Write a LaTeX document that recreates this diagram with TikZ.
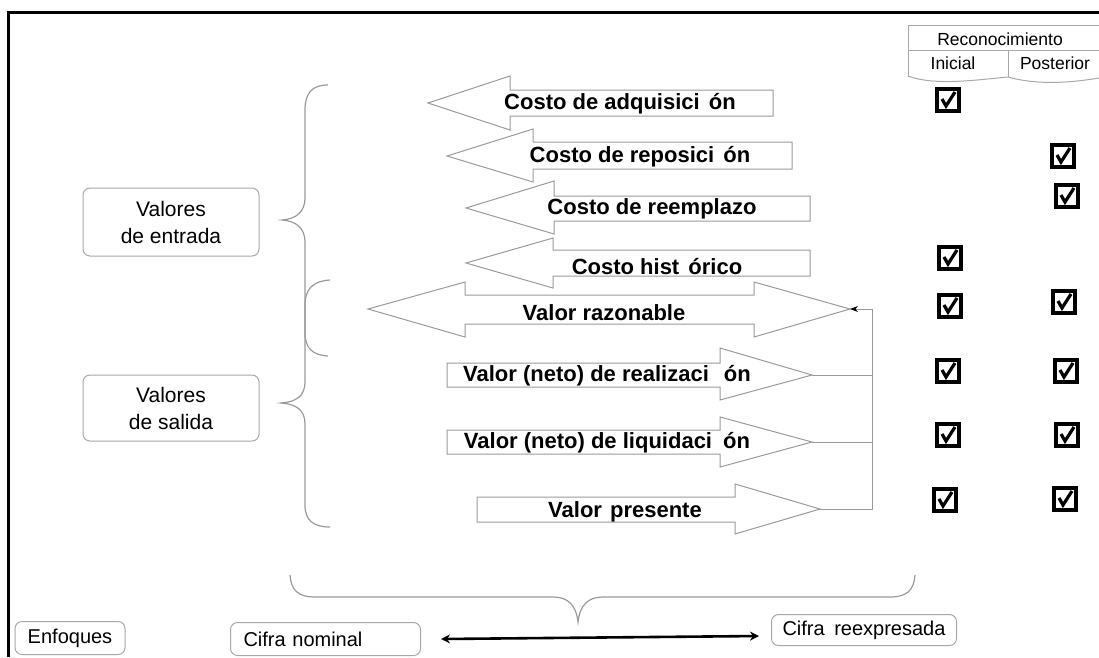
\documentclass[tikz,border=0pt]{standalone}
\usepackage{fontspec}
\setmainfont{Liberation Sans}
\usetikzlibrary{arrows.meta,calc}
\definecolor{lgray}{HTML}{9A9A9A}
\definecolor{bgray}{HTML}{A8A8A8}
\begin{document}
\begin{tikzpicture}[x=1pt,y=-1pt,
  arr/.style={draw=lgray,line width=1pt,line join=miter},
  atext/.style={font=\fontsize{22}{24}\selectfont\bfseries,inner sep=0pt},
  brace/.style={draw=lgray,line width=1.2pt},
  rbox/.style={draw=bgray,line width=1pt,rounded corners=7pt,inner sep=0pt},
  btext/.style={font=\fontsize{21}{27}\selectfont,align=center},
  ftext/.style={font=\fontsize{20}{24}\selectfont},
  htext/.style={font=\fontsize{17.5}{20}\selectfont,inner sep=0pt},
  hline/.style={draw=bgray,line width=1pt},
  conn/.style={draw=lgray,line width=1pt},
  chk/.style={draw,line width=3.2pt,minimum size=22pt,inner sep=0pt,
    path picture={\draw[line width=3.2pt,line join=miter]
      ([xshift=-6pt,yshift=1pt]path picture bounding box.center) --
      ([xshift=-2pt,yshift=-6pt]path picture bounding box.center) --
      ([xshift=7pt,yshift=8pt]path picture bounding box.center);}},
]
\useasboundingbox (0,0) rectangle (1099,657);
% frame
\draw[line width=3pt] (8,657) -- (8,12) -- (1099,12);

% header table
\draw[hline] (1099,25) -- (908,25) -- (908,77);
\draw[hline] (908,50) -- (1099,50);
\draw[hline] (1008,50) -- (1008,77);
\draw[hline] (908,76) .. controls (935,86) and (975,80) .. (1008,77)
  .. controls (1040,86) and (1075,82) .. (1099,78);
\node[htext] (hrec) at (1000,39) {Reconocimiento};
\node[htext] (hini) at (953,63) {Inicial};
\node[htext] (hpos) at (1055,63) {Posterior};

% left-pointing arrows
\draw[arr] (428,103) -- (510,76) -- (510,90) -- (773,90) -- (773,116) -- (510,116) -- (510,130) -- cycle;
\draw[arr] (447,156) -- (533,129) -- (533,142) -- (792,142) -- (792,169) -- (533,169) -- (533,182) -- cycle;
\draw[arr] (466,208) -- (554,181) -- (554,196) -- (810,196) -- (810,221) -- (554,221) -- (554,234) -- cycle;
\draw[arr] (466,263) -- (553,238) -- (553,250) -- (810,250) -- (810,276) -- (553,276) -- (553,288) -- cycle;
% double arrow
\draw[arr] (368,309) -- (465,282) -- (465,295) -- (754,295) -- (754,282) -- (850,309)
  -- (754,337) -- (754,324) -- (465,324) -- (465,337) -- cycle;
% right-pointing arrows
\draw[arr] (447,363) -- (720,363) -- (720,348) -- (812,375) -- (720,400) -- (720,387) -- (447,387) -- cycle;
\draw[arr] (447,430) -- (720,430) -- (720,417) -- (812,442) -- (720,467) -- (720,454) -- (447,454) -- cycle;
\draw[arr] (477,497) -- (735,497) -- (735,484) -- (820,509) -- (735,534) -- (735,522) -- (477,522) -- cycle;

\coordinate (tip5) at (850,309);
\coordinate (tip6) at (812,375);
\coordinate (tip7) at (812,442);
\coordinate (tip8) at (820,509);
\coordinate (rail) at (872,0);

\node[atext] (a1) at (620,104) {Costo de adquisici\hspace{3pt} ón};
\node[atext] (a2) at (640,157) {Costo de reposici\hspace{3pt} ón};
\node[atext] (a3) at (652,209) {Costo de reemplazo};
\node[atext] (a4) at (657,267) {Costo hist\hspace{3pt} órico};
\node[atext] (a5) at (604,313) {Valor razonable};
\node[atext] (a6) at (607,376) {Valor (neto) de realizaci\hspace{9pt} ón};
\node[atext] (a7) at (607,443) {Valor (neto) de liquidaci\hspace{5pt} ón};
\node[atext] (a8) at (625,512) {Valor\hspace{2pt} presente};

% connectors on the right
\draw[conn] (tip6) -- (tip6 -| rail);
\draw[conn] (tip7) -- (tip7 -| rail);
\draw[conn,-{Stealth[length=8pt,width=6pt,black]}] (tip8) -- (tip8 -| rail) -- (tip5 -| rail) -- (tip5);

% braces
\draw[brace] (328,85) .. controls (312,85) and (305,93) .. (305,110) -- (305,198)
  .. controls (305,212) and (296,219) .. (282,220) .. controls (296,221) and (305,228) .. (305,242)
  -- (305,332) .. controls (305,348) and (312,355) .. (328,356);
\draw[brace] (330,280) .. controls (313,281) and (305,289) .. (305,305) -- (305,382)
  .. controls (305,396) and (296,402) .. (281,403) .. controls (296,404) and (305,410) .. (305,424)
  -- (305,505) .. controls (305,520) and (313,527) .. (330,527);
\draw[brace] (290,575) .. controls (291,590) and (298,597) .. (315,597) -- (553,597)
  .. controls (568,597) and (576,605) .. (578,622) .. controls (580,605) and (588,597) .. (603,597)
  -- (890,597) .. controls (907,597) and (914,590) .. (915,575);

% left boxes
\node[rbox,btext,minimum width=176pt,minimum height=68pt] (ve) at (171,222) {Valores\\de entrada};
\node[rbox,btext,minimum width=176pt,minimum height=66pt] (vs) at (171,408) {Valores\\de salida};

% bottom boxes
\node[rbox,ftext,minimum width=110pt,minimum height=33pt] (enf) at (70,638) {Enfoques};
\node[rbox,ftext,anchor=north west,minimum height=33pt,inner xsep=13pt,text width=164pt,align=left] (cn) at (230,622) {Cifra nominal};
\node[rbox,ftext,minimum width=185pt,minimum height=31pt] (cr) at (864,630) {Cifra\hspace{4pt} reexpresada};
\draw[line width=2.6pt,{Stealth[length=9pt,width=9pt]}-{Stealth[length=9pt,width=9pt]}]
  ([xshift=20pt]cn.east) -- ([xshift=-12pt,yshift=-6pt]cr.west);

% checkboxes
\node[chk] (c1i) at (948,100) {};
\node[chk] (c2p) at (1063,156) {};
\node[chk] (c3p) at (1067,196) {};
\node[chk] (c4i) at (950,258) {};
\node[chk] (c5i) at (950,306) {};
\node[chk] (c5p) at (1064,302) {};
\node[chk] (c6i) at (948,371) {};
\node[chk] (c6p) at (1066,371) {};
\node[chk] (c7i) at (948,435) {};
\node[chk] (c7p) at (1067,435) {};
\node[chk] (c8i) at (945,500) {};
\node[chk] (c8p) at (1065,499) {};
\end{tikzpicture}
\end{document}
